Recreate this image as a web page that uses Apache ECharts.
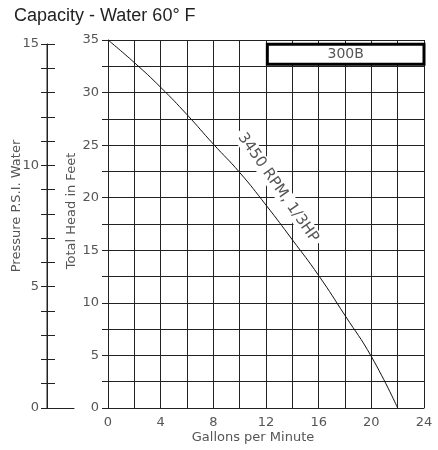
<!DOCTYPE html>
<html><head><meta charset="utf-8">
<script src="https://cdn.jsdelivr.net/npm/echarts@6/dist/echarts.min.js"></script>
<style>html,body{margin:0;padding:0;background:#fff}#c{width:438px;height:450px}</style>
</head><body><div id="c"></div>
<script>
// ---- data ----
const gpm    = [0, 2, 4, 6, 8, 10, 12, 14, 16, 18, 20, 22];
const headFt = [35, 32.85, 30.5, 27.9, 25.1, 22.4, 19.3, 16.0, 12.6, 8.8, 4.9, 0];
const xLabelTicks   = [0, 4, 8, 12, 16, 20, 24];
const ftLabelTicks  = [0, 5, 10, 15, 20, 25, 30, 35];
const psiLabelTicks = [0, 5, 10, 15];
const psiRange = [0, 15];
const curveLabel = '3450 RPM, 1/3HP';
const curveLabelAt = [12.92, 20.95];
const modelLabel = '300B';
const modelBox = [[12.1, 34.6], [24, 32.7]];
const titleText = 'Capacity - Water 60\u00b0 F';
const xName = 'Gallons per Minute';
const ftName = 'Total Head in Feet';
const psiName = 'Pressure P.S.I. Water';

const FONT = 'DejaVu Sans';
const TXT = '#555';
const LINE = '#222';

const chart = echarts.init(document.getElementById('c'), null, {renderer: 'canvas'});

const option = {
  animation: false,
  backgroundColor: '#fff',
  title: {
    text: titleText, left: 9, top: 2,
    textStyle: {fontFamily: 'Liberation Sans', fontSize: 18, fontWeight: 'normal', color: '#222'}
  },
  grid: [
    {left: 108, right: 14, top: 40, bottom: 42},
    {left: 47, width: 27, top: 44, bottom: 42},
    {left: 55, width: 10, top: 44, bottom: 42}
  ],
  xAxis: [
    {
      type: 'value', gridIndex: 0, min: 0, max: 24, interval: 2,
      axisLine: {show: true, lineStyle: {color: LINE, width: 1}},
      axisTick: {show: false},
      axisLabel: {
        margin: 8, color: TXT, fontFamily: FONT, fontSize: 13,
        formatter: v => xLabelTicks.includes(v) ? String(v) : ''
      },
      splitLine: {show: true, lineStyle: {color: LINE, width: 1}}
    },
    {
      type: 'value', gridIndex: 1, min: 0, max: 1, position: 'bottom',
      axisLine: {show: true, onZero: false, lineStyle: {color: LINE, width: 1}},
      axisTick: {show: false}, axisLabel: {show: false}, splitLine: {show: false}
    },
    {type: 'value', gridIndex: 2, min: 0, max: 1, show: false}
  ],
  yAxis: [
    {
      type: 'value', gridIndex: 0, min: 0, max: 35, interval: 2.5,
      axisLine: {show: true, lineStyle: {color: LINE, width: 1}},
      axisTick: {show: true, length: 6, lineStyle: {color: LINE}},
      axisLabel: {
        margin: 9, color: TXT, fontFamily: FONT, fontSize: 13,
        formatter: v => ftLabelTicks.includes(v) ? String(v) : ''
      },
      splitLine: {show: true, lineStyle: {color: LINE, width: 1}}
    },
    {
      type: 'value', gridIndex: 1, min: psiRange[0], max: psiRange[1], interval: 1, position: 'left',
      axisLine: {show: true, onZero: false, lineStyle: {color: LINE, width: 1}},
      axisTick: {show: true, length: 6, lineStyle: {color: LINE}},
      axisLabel: {
        margin: 8, color: TXT, fontFamily: FONT, fontSize: 13,
        formatter: v => psiLabelTicks.includes(v) ? String(v) : ''
      },
      splitLine: {show: false}
    },
    {
      type: 'value', gridIndex: 2, min: psiRange[0], max: psiRange[1], interval: 1, position: 'left',
      axisLine: {show: false, onZero: false},
      axisTick: {show: true, length: 8, lineStyle: {color: LINE}},
      axisLabel: {show: false},
      splitLine: {show: false}
    }
  ],
  series: [
    {
      type: 'line', xAxisIndex: 0, yAxisIndex: 0,
      data: gpm.map((g, i) => [g, headFt[i]]),
      smooth: true,
      symbol: 'none',
      lineStyle: {color: '#111', width: 1},
      z: 100,
      markArea: {
        silent: true,
        itemStyle: {color: '#fff', borderColor: '#000', borderWidth: 3},
        label: {
          show: true, position: 'inside', color: TXT,
          fontFamily: FONT, fontSize: 14, formatter: modelLabel
        },
        data: [[{coord: modelBox[0]}, {coord: modelBox[1]}]]
      }
    },
    {
      // psi axis spine drawn along the psi scale
      type: 'line', xAxisIndex: 1, yAxisIndex: 1, clip: false, silent: true,
      data: psiRange.map(p => [0, p]),
      symbol: 'none', lineStyle: {color: LINE, width: 1}
    }
  ]
};
chart.setOption(option);

const lp = chart.convertToPixel({gridIndex: 0}, curveLabelAt);
const g0 = chart.getModel().getComponent('grid', 0).coordinateSystem.getRect();
chart.setOption({
  graphic: [
    {
      type: 'text', x: lp[0], y: lp[1], rotation: -55 * Math.PI / 180, z: 3,
      style: {
        text: curveLabel, fill: TXT, font: '15px "' + FONT + '"',
        align: 'center', verticalAlign: 'middle',
        backgroundColor: '#fff', padding: [1, 4]
      }
    },
    {
      type: 'text', x: g0.x + g0.width / 2 - 13, y: 438,
      style: {text: xName, fill: TXT, font: '13px "' + FONT + '"', align: 'center', verticalAlign: 'middle'}
    },
    {
      type: 'text', x: 72, y: 211, rotation: Math.PI / 2,
      style: {text: ftName, fill: TXT, font: '13px "' + FONT + '"', align: 'center', verticalAlign: 'middle'}
    },
    {
      type: 'text', x: 17, y: 206, rotation: Math.PI / 2,
      style: {text: psiName, fill: TXT, font: '13px "' + FONT + '"', align: 'center', verticalAlign: 'middle'}
    }
  ]
});
</script>
</body></html>
